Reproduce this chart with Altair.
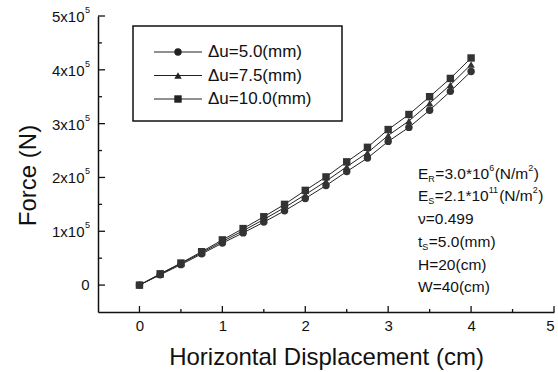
import altair as alt
import pandas as pd

FONT = "Liberation Sans"

# ---------------- data ----------------
DISP = [0, 0.25, 0.5, 0.75, 1.0, 1.25, 1.5, 1.75, 2.0, 2.25, 2.5, 2.75, 3.0, 3.25, 3.5, 3.75, 4.0]
F_5_0 = [0, 0.19e5, 0.38e5, 0.58e5, 0.78e5, 0.97e5, 1.17e5, 1.38e5, 1.61e5, 1.85e5, 2.11e5, 2.36e5, 2.67e5, 2.93e5, 3.25e5, 3.60e5, 3.97e5]
F_7_5 = [0, 0.20e5, 0.40e5, 0.60e5, 0.81e5, 1.01e5, 1.22e5, 1.44e5, 1.68e5, 1.93e5, 2.20e5, 2.46e5, 2.78e5, 3.05e5, 3.38e5, 3.72e5, 4.10e5]
F_10_0 = [0, 0.21e5, 0.41e5, 0.62e5, 0.84e5, 1.05e5, 1.27e5, 1.50e5, 1.76e5, 2.01e5, 2.29e5, 2.56e5, 2.89e5, 3.17e5, 3.50e5, 3.84e5, 4.22e5]
SERIES = ["Δu=5.0(mm)", "Δu=7.5(mm)", "Δu=10.0(mm)"]
SHAPES = ["circle", "triangle-up", "square"]

X_MAJOR = [0, 1, 2, 3, 4, 5]
X_MINOR = [0.5, 1.5, 2.5, 3.5, 4.5]
Y_MAJOR = [0, 1e5, 2e5, 3e5, 4e5, 5e5]
Y_MINOR = [0.5e5, 1.5e5, 2.5e5, 3.5e5, 4.5e5]
Y_MAIN = ["0", "1x10", "2x10", "3x10", "4x10", "5x10"]
Y_SUP = ["", "5", "5", "5", "5", "5"]

# annotation lines: list of (text, kind) where kind n=normal, b=subscript, p=superscript
ANNOT = [
    [("E", "n"), ("R", "b"), ("=3.0*10", "n"), ("6", "p"), ("(N/m", "n"), ("2", "p"), (")", "n")],
    [("E", "n"), ("S", "b"), ("=2.1*10", "n"), ("11", "p"), ("(N/m", "n"), ("2", "p"), (")", "n")],
    [("ν=0.499", "n")],
    [("t", "n"), ("S", "b"), ("=5.0(mm)", "n")],
    [("H=20(cm)", "n")],
    [("W=40(cm)", "n")],
]

# ---------------- layout constants ----------------
W, H = 456, 296
ANNOT_X = 320
ANNOT_Y = [158, 180, 203, 226, 249, 271]
MAIN_FS, SMALL_FS = 15.5, 9

ARIAL = {'E': 667, 'R': 722, 'S': 667, '=': 584, '.': 278, '*': 389, '(': 333, 'N': 722,
         '/': 278, 'm': 833, ')': 333, 'v': 500, 'ν': 500, 't': 278, 's': 500, 'H': 722,
         'W': 944, 'c': 500}


def text_width(s, fs):
    return sum(ARIAL.get(ch, 556) for ch in s) * fs / 1000.0


rows = []
for name, vals in zip(SERIES, [F_5_0, F_7_5, F_10_0]):
    for x, y in zip(DISP, vals):
        rows.append({"x": x, "y": y, "series": name})
df = pd.DataFrame(rows)

xs = alt.Scale(domain=[-0.5, 5], nice=False, zero=False)
ys = alt.Scale(domain=[-0.5e5, 5e5], nice=False, zero=False)
xaxis = alt.Axis(values=X_MAJOR, ticks=False, grid=False, domain=True, domainColor="#111",
                 domainWidth=1.5, labelFontSize=15, labelFont=FONT, labelColor="#111",
                 labelPadding=6, title="Horizontal Displacement (cm)", titleFont=FONT,
                 titleFontSize=24, titleFontWeight="normal", titleColor="#111", titlePadding=12)
yaxis = alt.Axis(labels=False, ticks=False, grid=False, domain=True, domainColor="#111",
                 domainWidth=1.5, title="Force (N)", titleFont=FONT, titleFontSize=24,
                 titleFontWeight="normal", titleColor="#111", titlePadding=58, titleY=159)
X = alt.X("x:Q", scale=xs, axis=xaxis)
Y = alt.Y("y:Q", scale=ys, axis=yaxis)

lines = alt.Chart(df).mark_line(color="#222", strokeWidth=1).encode(x=X, y=Y, detail="series:N")
points = alt.Chart(df).mark_point(filled=True, color="#333", size=55, opacity=1).encode(
    x=X, y=Y,
    shape=alt.Shape("series:N", scale=alt.Scale(domain=SERIES, range=SHAPES), legend=None))

layers = [lines, points]

# inward ticks
ymaj = pd.DataFrame({"y": Y_MAJOR})
ymin = pd.DataFrame({"y": Y_MINOR})
xmaj = pd.DataFrame({"x": X_MAJOR})
xmin = pd.DataFrame({"x": X_MINOR})
layers.append(alt.Chart(ymaj).mark_rule(color="#111", strokeWidth=1.3).encode(y=Y, x=alt.value(0), x2=alt.value(7)))
layers.append(alt.Chart(ymin).mark_rule(color="#111", strokeWidth=1.3).encode(y=Y, x=alt.value(0), x2=alt.value(4)))
layers.append(alt.Chart(xmaj).mark_rule(color="#111", strokeWidth=1.3).encode(x=X, y=alt.value(H), y2=alt.value(H - 6)))
layers.append(alt.Chart(xmin).mark_rule(color="#111", strokeWidth=1.3).encode(x=X, y=alt.value(H), y2=alt.value(H - 3)))

# y tick labels with superscripts
ylab = pd.DataFrame({"y": Y_MAJOR, "main": Y_MAIN, "sup": Y_SUP})
layers.append(alt.Chart(ylab).transform_filter("datum.sup == ''").mark_text(
    align="right", baseline="middle", fontSize=15, font=FONT, color="#111").encode(
    y=Y, x=alt.value(-8.5), text="main:N"))
layers.append(alt.Chart(ylab).transform_filter("datum.sup != ''").mark_text(
    align="right", baseline="middle", fontSize=15, font=FONT, color="#111", dy=1).encode(
    y=Y, x=alt.value(-13.5), text="main:N"))
layers.append(alt.Chart(ylab).transform_filter("datum.sup != ''").mark_text(
    align="left", baseline="middle", fontSize=9, font=FONT, color="#111", dy=-6).encode(
    y=Y, x=alt.value(-13), text="sup:N"))

# legend box
LEG_X0, LEG_X1, LEG_Y0, LEG_Y1 = 35, 244, 10, 105
LEG_ROWS = [36, 59.5, 83]
box = pd.DataFrame({"k": [0]})
layers.append(alt.Chart(box).mark_rect(fill="white", stroke="#111", strokeWidth=1.5).encode(
    x=alt.value(LEG_X0), x2=alt.value(LEG_X1), y=alt.value(LEG_Y0), y2=alt.value(LEG_Y1)))
for name, shp, ry in zip(SERIES, SHAPES, LEG_ROWS):
    one = pd.DataFrame({"series": [name]})
    layers.append(alt.Chart(one).mark_rule(color="#222", strokeWidth=1).encode(
        x=alt.value(56), x2=alt.value(104), y=alt.value(ry)))
    layers.append(alt.Chart(one).mark_point(filled=True, color="#222", size=55, opacity=1, shape=shp).encode(
        x=alt.value(80), y=alt.value(ry)))
    layers.append(alt.Chart(one).mark_text(align="left", baseline="middle", fontSize=17, font=FONT,
                                           color="#111").encode(
        x=alt.value(110), y=alt.value(ry), text="series:N"))

# parameter annotations
for segs, ay in zip(ANNOT, ANNOT_Y):
    xpos = ANNOT_X
    for txt, kind in segs:
        fs = MAIN_FS if kind == "n" else SMALL_FS
        dy = 0 if kind == "n" else (5 if kind == "b" else -6)
        one = pd.DataFrame({"t": [txt]})
        layers.append(alt.Chart(one).mark_text(align="left", baseline="middle", fontSize=fs,
                                               font=FONT, color="#111", dy=dy).encode(
            x=alt.value(xpos), y=alt.value(ay), text="t:N"))
        xpos += text_width(txt, fs) + (0.5 if kind != "n" else 0)

chart = alt.layer(*layers).properties(
    width=W, height=H,
    autosize=alt.AutoSizeParams(type="none"),
    padding={"left": 98, "top": 16, "right": 4, "bottom": 60},
    background="white",
).configure_view(stroke=None)

chart.save("out.html", embed_options={"renderer": "svg", "actions": False})
